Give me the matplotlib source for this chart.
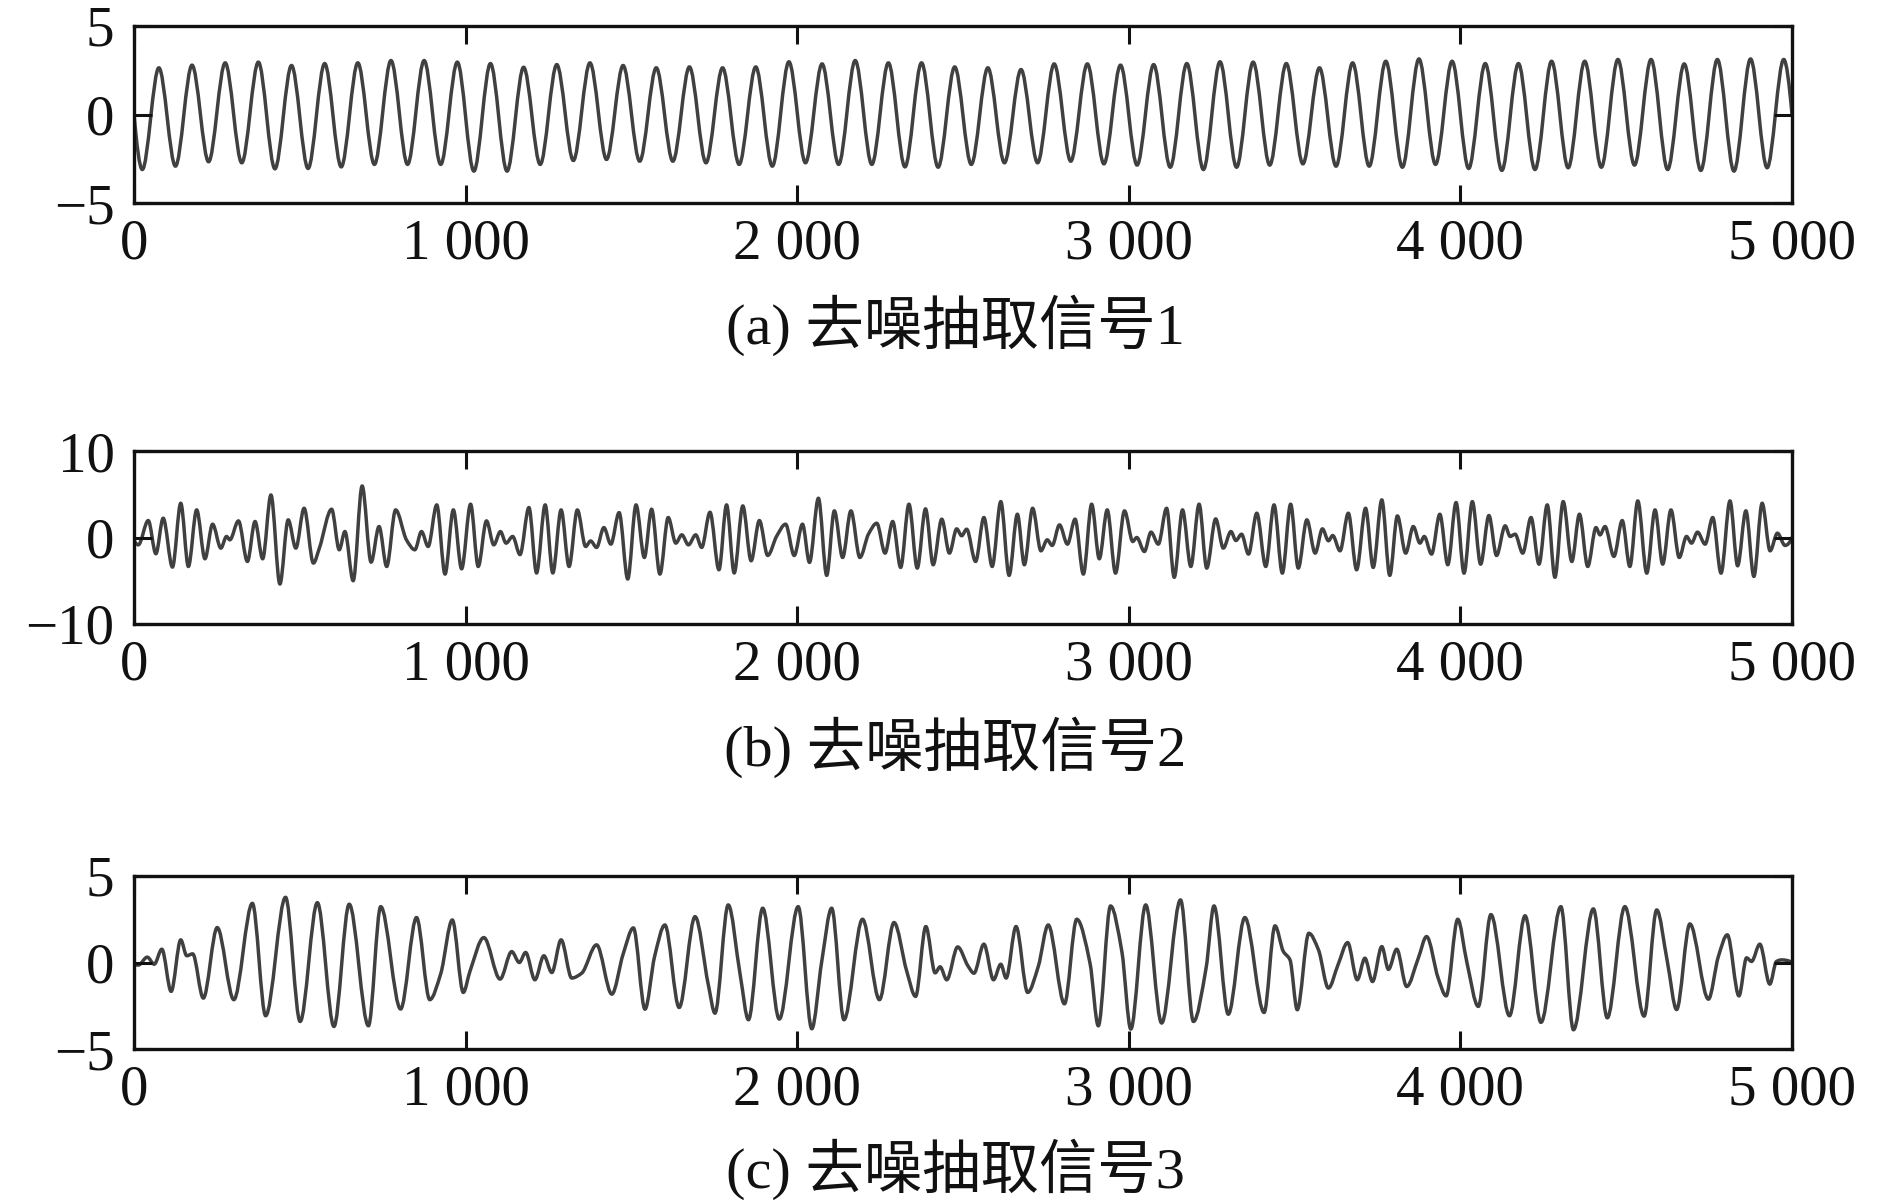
import numpy as np
import matplotlib
matplotlib.use("Agg")
import matplotlib.pyplot as plt
from matplotlib.path import Path
from matplotlib.patches import PathPatch
from matplotlib.ticker import FuncFormatter

plt.rcParams['font.family'] = ['Liberation Serif', 'Noto Sans CJK SC', 'DejaVu Sans']
plt.rcParams['axes.unicode_minus'] = True

# ---------------- data (extrema) ----------------
captions = ["(a) 去噪抽取信号1", "(b) 去噪抽取信号2", "(c) 去噪抽取信号3"]
x_ticks = [0, 1000, 2000, 3000, 4000, 5000]
y_ticks_a = [-5, 0, 5]
y_ticks_b = [-10, 0, 10]
y_ticks_c = [-5, 0, 5]

# signal 1: troughs and peaks
sig1_trough_x = [25, 125, 225, 325, 425, 525, 625, 725, 825, 925,
                 1025, 1125, 1225, 1325, 1425, 1525, 1625, 1725, 1825, 1925,
                 2025, 2125, 2225, 2325, 2425, 2525, 2625, 2725, 2825, 2925,
                 3025, 3125, 3225, 3325, 3425, 3525, 3625, 3725, 3825, 3925,
                 4025, 4125, 4225, 4325, 4425, 4525, 4625, 4725, 4825, 4925]
sig1_trough_y = [-3.11, -2.92, -2.67, -2.73, -3.07, -3.05, -2.96, -2.82, -2.82, -2.82,
                 -3.20, -3.20, -2.82, -2.60, -2.54, -2.64, -2.64, -2.73, -2.82, -2.92,
                 -2.73, -2.82, -2.82, -2.96, -2.98, -2.82, -2.73, -2.73, -2.64, -2.79,
                 -2.86, -2.98, -3.11, -2.98, -2.86, -2.79, -2.92, -2.92, -2.98, -2.82,
                 -3.05, -3.16, -3.11, -3.01, -2.98, -2.86, -3.11, -3.16, -3.20, -3.01]
sig1_peak_x = [75, 175, 275, 375, 475, 575, 675, 775, 875, 975,
               1075, 1175, 1275, 1375, 1475, 1575, 1675, 1775, 1875, 1975,
               2075, 2175, 2275, 2375, 2475, 2575, 2675, 2775, 2875, 2975,
               3075, 3175, 3275, 3375, 3475, 3575, 3675, 3775, 3875, 3975,
               4075, 4175, 4275, 4375, 4475, 4575, 4675, 4775, 4875, 4975]
sig1_peak_y = [2.64, 2.79, 2.92, 2.96, 2.77, 2.88, 2.92, 3.05, 3.05, 2.96,
               2.88, 2.67, 2.82, 2.92, 2.77, 2.64, 2.69, 2.64, 2.69, 2.98,
               2.86, 3.05, 2.92, 2.92, 2.69, 2.64, 2.54, 2.86, 2.86, 2.79,
               2.82, 2.88, 2.98, 2.96, 2.88, 2.64, 2.92, 3.01, 3.14, 3.01,
               2.88, 2.88, 3.01, 3.01, 3.11, 3.11, 2.86, 3.11, 3.14, 3.11]
sig1_end_x = [0, 5000]
sig1_end_y = [0.0, 0.0]

# signal 2: turning points
sig2_x = [0, 13, 43, 66, 88, 116, 141, 164, 189, 214, 237, 262, 279, 289, 315, 342, 365, 388,
          413, 440, 465, 488, 513, 541, 559, 596, 619, 636, 661, 688, 715, 739, 762, 789, 822,
          847, 867, 887, 913, 938, 963, 988, 1015, 1038, 1063, 1085, 1105, 1122, 1142, 1164,
          1191, 1214, 1240, 1263, 1288, 1312, 1337, 1362, 1377, 1395, 1417, 1438, 1463, 1489,
          1514, 1539, 1561, 1586, 1611, 1634, 1652, 1672, 1694, 1712, 1737, 1764, 1787, 1810,
          1836, 1861, 1886, 1911, 1938, 1965, 1991, 2016, 2037, 2064, 2089, 2112, 2137, 2162,
          2189, 2215, 2240, 2265, 2288, 2312, 2337, 2362, 2387, 2410, 2436, 2459, 2481, 2496,
          2511, 2538, 2563, 2588, 2614, 2639, 2664, 2685, 2710, 2735, 2754, 2769, 2791, 2815,
          2838, 2863, 2888, 2911, 2935, 2960, 2987, 3012, 3024, 3047, 3067, 3089, 3114, 3137,
          3162, 3187, 3212, 3235, 3262, 3285, 3308, 3323, 3340, 3361, 3386, 3413, 3438, 3463,
          3488, 3511, 3537, 3562, 3584, 3602, 3615, 3637, 3662, 3687, 3714, 3737, 3763, 3787,
          3810, 3835, 3858, 3878, 3891, 3913, 3938, 3962, 3987, 4011, 4036, 4061, 4086, 4109,
          4135, 4150, 4165, 4188, 4213, 4237, 4262, 4285, 4310, 4336, 4359, 4384, 4409, 4421,
          4436, 4463, 4488, 4511, 4535, 4562, 4587, 4610, 4635, 4660, 4682, 4697, 4715, 4738,
          4761, 4786, 4813, 4836, 4861, 4885, 4910, 4934, 4956, 4979, 5000]
sig2_y = [-0.3, -0.85, 1.96, -1.88, 2.23, -3.42, 3.96, -3.35, 3.19, -2.46, 1.54, -1.23, 0.12, -0.27,
          1.92, -2.77, 1.85, -2.46, 4.92, -5.38, 2.04, -1.23, 3.38, -2.96, -1.23, 3.27, -1.42, 0.69,
          -5.0, 5.96, -2.85, 1.27, -3.35, 3.19, -0.3, -1.42, 0.69, -1.04, 3.77, -4.23, 3.19, -3.62,
          3.85, -3.35, 1.92, -0.85, 0.69, -0.65, 0.12, -1.98, 3.46, -4.1, 3.77, -4.1, 3.19, -3.35,
          3.19, -1.04, -0.4, -1.15, 1.15, -0.77, 2.88, -4.8, 3.77, -2.31, 3.27, -4.23, 2.31, -0.65,
          0.31, -0.85, 0.31, -1.15, 2.92, -3.73, 3.77, -4.1, 3.65, -2.69, 1.96, -2.08, 0.15, 1.54,
          -2.08, 1.54, -2.88, 4.54, -4.38, 3.08, -2.31, 3.08, -2.31, 0.4, 1.65, -1.81, 1.85, -3.46,
          3.85, -3.54, 3.31, -3.15, 2.12, -1.81, 1.0, 0.2, 0.96, -2.77, 2.31, -3.35, 4.15, -4.38,
          2.69, -3.15, 3.38, -1.54, -0.27, -0.92, 1.46, -0.77, 2.12, -4.23, 3.85, -2.46, 3.19,
          -4.12, 3.08, -0.46, 0.0, -1.62, 0.62, -0.77, 3.38, -4.6, 3.19, -3.35, 3.85, -3.54, 2.15,
          -1.23, 0.69, -0.35, 0.38, -1.92, 2.81, -3.35, 3.77, -4.12, 3.85, -3.54, 2.04, -1.81, 1.0,
          -0.38, 0.23, -1.54, 2.81, -3.73, 3.38, -3.46, 4.35, -4.38, 2.5, -1.81, 1.27, -0.65, 0.12,
          -1.92, 2.69, -3.15, 4.04, -4.12, 4.15, -3.08, 2.54, -2.08, 1.35, 0.12, 0.38, -1.81, 2.31,
          -3.08, 3.77, -4.6, 4.15, -2.77, 2.69, -3.35, 1.15, 0.3, 1.27, -2.19, 1.96, -3.35, 4.23,
          -4.12, 3.19, -3.08, 3.19, -2.31, 0.12, -0.65, 0.62, -0.77, 2.31, -4.12, 4.23, -3.27, 3.08,
          -4.5, 3.96, -1.54, 0.5, -0.92, 0.0]

# signal 3: turning points
sig3_x = [0, 13, 40, 61, 84, 112, 141, 159, 177, 209, 251, 301, 357, 397, 457, 501, 553, 603,
          649, 707, 744, 804, 852, 892, 925, 960, 993, 1013, 1055, 1104, 1139, 1162, 1181, 1209,
          1236, 1260, 1288, 1320, 1350, 1395, 1441, 1475, 1506, 1541, 1570, 1601, 1644, 1692,
          1732, 1752, 1792, 1828, 1853, 1896, 1946, 2003, 2044, 2074, 2104, 2141, 2197, 2248,
          2292, 2330, 2357, 2388, 2416, 2431, 2451, 2484, 2515, 2533, 2563, 2592, 2614, 2630,
          2660, 2695, 2727, 2757, 2806, 2843, 2883, 2908, 2945, 2979, 3006, 3051, 3099, 3156,
          3195, 3233, 3257, 3300, 3350, 3408, 3441, 3466, 3486, 3508, 3543, 3572, 3602, 3631,
          3660, 3689, 3712, 3735, 3763, 3783, 3808, 3838, 3873, 3898, 3933, 3957, 3992, 4019,
          4054, 4092, 4148, 4195, 4243, 4303, 4341, 4401, 4443, 4496, 4554, 4592, 4624, 4652,
          4692, 4748, 4778, 4805, 4840, 4863, 4878, 4903, 4933, 4953, 4968, 5000]
sig3_y = [-0.1, -0.15, 0.31, -0.1, 0.77, -1.67, 1.31, 0.39, 0.5, -2.06, 2.02, -2.15, 3.42, -3.08,
          3.77, -3.41, 3.46, -3.7, 3.37, -3.66, 3.23, -2.69, 2.6, -2.15, -0.65, 2.46, -1.73, -0.52,
          1.44, -0.96, 0.63, 0.0, 0.58, -1.0, 0.39, -0.58, 1.31, -0.9, -0.62, 1.02, -1.83, 0.48,
          2.0, -2.7, 0.35, 2.17, -2.6, 2.65, -1.29, -2.93, 3.33, -0.71, -3.31, 3.14, -3.27, 3.23,
          -3.83, 0.06, 3.14, -3.31, 2.5, -2.15, 2.31, -0.48, -1.96, 2.08, -0.6, -0.25, -1.0, 0.9,
          -0.2, -0.62, 1.06, -1.0, -0.1, -0.9, 2.08, -1.73, -0.23, 2.17, -2.39, 2.5, -0.04, -3.66,
          3.27, 0.64, -3.85, 3.33, -3.5, 3.62, -3.41, -0.33, 3.27, -2.99, 2.6, -2.89, 2.12, 0.64,
          0.16, -2.73, 1.69, 0.73, -1.48, -0.13, 1.15, -1.0, 0.25, -1.1, 0.92, -0.4, 0.77, -1.39,
          0.25, 1.5, -0.9, -1.93, 2.5, 0.06, -2.54, 2.77, -3.08, 2.7, -3.46, 3.23, -3.89, 3.1,
          -3.2, 3.23, -3.1, 3.04, 0.06, -2.72, 2.23, -2.12, 0.35, 1.6, -1.93, 0.27, 0.06, 1.06,
          -1.25, 0.06, 0.15, 0.0]

# ---------------- drawing helpers ----------------
LINE_COLOR = '#404040'


def smooth_curve(ax, xs, ys, **kw):
    """Draw a smooth curve through the given turning points (cubic Hermite as Bezier)."""
    x = np.asarray(xs, float)
    y = np.asarray(ys, float)
    h = np.diff(x)
    d = np.diff(y) / h
    m = np.zeros_like(y)
    for i in range(1, len(y) - 1):
        if d[i - 1] * d[i] > 0:
            w1 = 2 * h[i] + h[i - 1]
            w2 = h[i] + 2 * h[i - 1]
            m[i] = (w1 + w2) / (w1 / d[i - 1] + w2 / d[i])
    if len(y) > 2:
        m[0] = ((2 * h[0] + h[1]) * d[0] - h[0] * d[1]) / (h[0] + h[1])
        m[-1] = ((2 * h[-1] + h[-2]) * d[-1] - h[-1] * d[-2]) / (h[-1] + h[-2])
        if m[0] * d[0] <= 0:
            m[0] = 0
        if m[-1] * d[-1] <= 0:
            m[-1] = 0
    verts = [(x[0], y[0])]
    codes = [Path.MOVETO]
    for i in range(len(x) - 1):
        verts.append((x[i] + h[i] / 3, y[i] + m[i] * h[i] / 3))
        verts.append((x[i + 1] - h[i] / 3, y[i + 1] - m[i + 1] * h[i] / 3))
        verts.append((x[i + 1], y[i + 1]))
        codes += [Path.CURVE4] * 3
    patch = PathPatch(Path(verts, codes), facecolor='none', transform=ax.transData, **kw)
    ax.add_patch(patch)
    return patch


def thousands(v, pos):
    return f"{int(round(v)):,}".replace(",", " ")


# ---------------- figure ----------------
fig = plt.figure(figsize=(18.9, 12.04), dpi=100)
W, H = 1890.0, 1204.0
ax_left, ax_right = 134, 1792
panel_px = [(26, 203), (451, 624), (876, 1049)]
caption_y = [325, 747, 1169]
caption_x = 955
ylims = [(-5, 5), (-10, 10), (-5, 5)]
yticks = [y_ticks_a, y_ticks_b, y_ticks_c]

sig1_x = list(sig1_end_x[:1]) + sorted(sig1_trough_x + sig1_peak_x) + list(sig1_end_x[1:])
_lookup = dict(zip(sig1_trough_x + sig1_peak_x, sig1_trough_y + sig1_peak_y))
sig1_y = [sig1_end_y[0]] + [_lookup[v] for v in sorted(sig1_trough_x + sig1_peak_x)] + [sig1_end_y[1]]
signals = [(sig1_x, sig1_y), (sig2_x, sig2_y), (sig3_x, sig3_y)]

for k in range(3):
    top, bot = panel_px[k]
    ax = fig.add_axes([ax_left / W, 1 - bot / H, (ax_right - ax_left) / W, (bot - top) / H])
    sx, sy = signals[k]
    smooth_curve(ax, sx, sy, edgecolor=LINE_COLOR, linewidth=2.5, joinstyle='round', capstyle='round')
    ax.set_xlim(0, 5000)
    ax.set_ylim(*ylims[k])
    ax.set_xticks(x_ticks)
    ax.set_yticks(yticks[k])
    ax.xaxis.set_major_formatter(FuncFormatter(thousands))
    ax.tick_params(axis='both', direction='in', length=13, width=2.2, color='#111111',
                   top=True, right=True, labelsize=41, labelcolor='#111111')
    ax.tick_params(axis='x', pad=11)
    ax.tick_params(axis='y', pad=14)
    for sp in ax.spines.values():
        sp.set_linewidth(2.4)
        sp.set_color('#111111')
    for lab in ax.get_xticklabels() + ax.get_yticklabels():
        lab.set_fontfamily('Liberation Serif')
    fig.text(caption_x / W, 1 - caption_y[k] / H, captions[k],
             ha='center', va='center', fontsize=42, color='#111111',
             family=['Liberation Serif', 'Noto Sans CJK SC'])

fig.savefig('out.png', dpi=100, facecolor='white')
